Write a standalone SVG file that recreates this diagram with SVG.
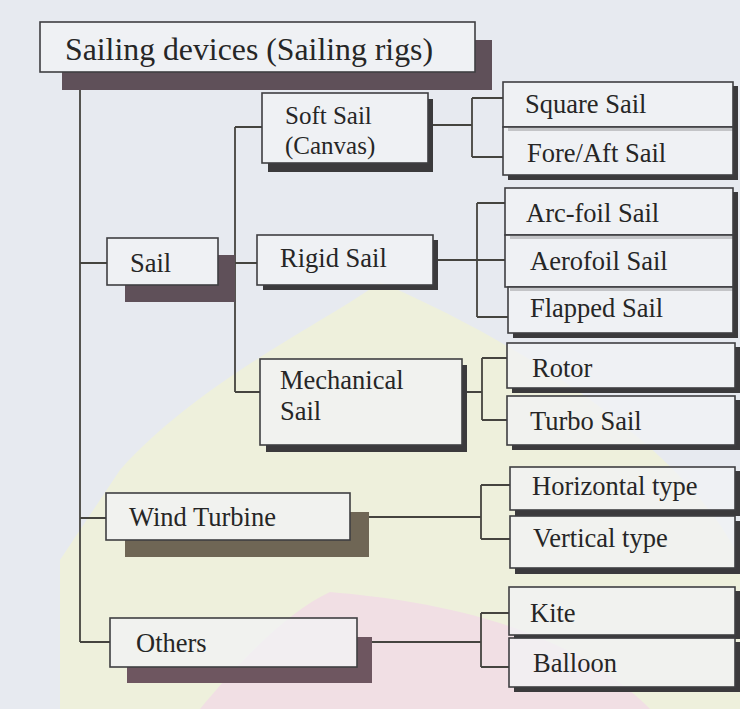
<svg xmlns="http://www.w3.org/2000/svg" width="740" height="709" viewBox="0 0 740 709">
<style>
.bx{fill:#f1f3f6;fill-opacity:0.75;stroke:#3f3f42;stroke-width:1.6}
.sh{fill:#3b3a3c}
.shb{fill:#5f5059}
.ln{fill:none;stroke:#45443f;stroke-width:1.8}
.t{font-family:"Liberation Serif","Times New Roman",serif;font-size:26.5px;fill:#262626}
.ts{font-family:"Liberation Serif","Times New Roman",serif;font-size:25px;fill:#262626}
.tt{font-family:"Liberation Serif","Times New Roman",serif;font-size:31px;fill:#262626}
</style>
<rect x="0" y="0" width="740" height="709" fill="#e7eaf0"/>
<path d="M380,282 C330,320 200,380 120,470 L60,560 L60,709 L740,709 L740,560 C700,470 560,360 380,282 Z" fill="#eef0dc"/>
<path d="M330,592 C420,600 560,620 650,709 L200,709 C240,660 290,610 330,592 Z" fill="#f1dfe4"/>

<g id="connectors">
<path class="ln" d="M80,90 V642 M80,263 H107 M80,518 H106 M80,642 H110"/>
<path class="ln" d="M235,127 V392 M235,127 H262 M235,263 H257 M235,392 H260"/>
<path class="ln" d="M432,125 H472 M472,98 V157 M472,98 H503 M472,157 H503"/>
<path class="ln" d="M438,260 H505 M477,203 V317 M477,203 H505 M477,317 H508"/>
<path class="ln" d="M467,392 H482 M482,358 V420 M482,358 H507 M482,420 H507"/>
<path class="ln" d="M369,517 H481 M481,485 V539 M481,485 H510 M481,539 H510"/>
<path class="ln" d="M372,642 H481 M481,613 V667 M481,613 H509 M481,667 H509"/>
</g>

<g id="title">
<path class="shb" d="M475,40 H492 V90 H62 V72 H475 Z"/>
<rect class="bx" x="40" y="22" width="435" height="50"/>
<text class="tt" x="65" y="60" textLength="368" lengthAdjust="spacingAndGlyphs">Sailing devices (Sailing rigs)</text>
</g>

<g id="sail">
<path class="shb" d="M218,255 H235 V302 H125 V285 H218 Z"/>
<rect class="bx" x="107" y="238" width="111" height="47"/>
<text class="t" x="130" y="272">Sail</text>
</g>

<g id="soft-sail">
<path class="sh" d="M428,99 H433 V172 H268 V163 H428 Z"/>
<rect class="bx" x="262" y="93" width="166" height="70"/>
<text class="ts" x="285" y="124">Soft Sail</text>
<text class="ts" x="285" y="154">(Canvas)</text>
</g>

<g id="rigid-sail">
<path class="sh" d="M433,240 H438 V290 H263 V285 H433 Z"/>
<rect class="bx" x="257" y="235" width="176" height="50"/>
<text class="t" x="280" y="267">Rigid Sail</text>
</g>

<g id="mechanical-sail">
<path class="sh" d="M462,365 H467 V452 H266 V445 H462 Z"/>
<rect class="bx" x="260" y="359" width="202" height="86"/>
<text class="t" x="280" y="389">Mechanical</text>
<text class="t" x="280" y="420">Sail</text>
</g>

<g id="wind-turbine">
<path class="shb" d="M350,512 H369 V557 H125 V540 H350 Z" style="fill:#6f6655"/>
<rect class="bx" x="106" y="493" width="244" height="47"/>
<text class="t" x="129" y="526">Wind Turbine</text>
</g>

<g id="others">
<path class="shb" d="M357,637 H372 V683 H127 V667 H357 Z" style="fill:#6e5660"/>
<rect class="bx" x="110" y="618" width="247" height="49"/>
<text class="t" x="136" y="652">Others</text>
</g>

<g id="square-sail">
<path class="sh" d="M733,86 H738 V131 H508 V127 H733 Z"/>
<rect class="bx" x="503" y="82" width="230" height="45"/>
<text class="t" x="525" y="113">Square Sail</text>
</g>
<g id="fore-aft-sail">
<path class="sh" d="M733,131 H738 V180 H508 V175 H733 Z"/>
<rect class="bx" x="503" y="127" width="230" height="48"/>
<text class="t" x="527" y="162">Fore/Aft Sail</text>
</g>

<g id="arc-foil-sail">
<path class="sh" d="M733,192 H738 V239 H510 V235 H733 Z"/>
<rect class="bx" x="505" y="188" width="228" height="47"/>
<text class="t" x="526" y="222">Arc-foil Sail</text>
</g>
<g id="aerofoil-sail">
<path class="sh" d="M733,239 H738 V291 H510 V287 H733 Z"/>
<rect class="bx" x="505" y="235" width="228" height="52"/>
<text class="t" x="530" y="270">Aerofoil Sail</text>
</g>
<g id="flapped-sail">
<path class="sh" d="M733,291 H738 V338 H513 V333 H733 Z"/>
<rect class="bx" x="508" y="287" width="225" height="46"/>
<text class="t" x="530" y="317">Flapped Sail</text>
</g>

<g id="rotor">
<path class="sh" d="M735,347 H740 V393 H512 V388 H735 Z"/>
<rect class="bx" x="507" y="343" width="228" height="45"/>
<text class="t" x="532" y="377">Rotor</text>
</g>
<g id="turbo-sail">
<path class="sh" d="M735,400 H740 V450 H512 V445 H735 Z"/>
<rect class="bx" x="507" y="396" width="228" height="49"/>
<text class="t" x="530" y="430">Turbo Sail</text>
</g>

<g id="horizontal-type">
<path class="sh" d="M735,471 H740 V516 H515 V510 H735 Z"/>
<rect class="bx" x="510" y="467" width="225" height="43"/>
<text class="t" x="532" y="495">Horizontal type</text>
</g>
<g id="vertical-type">
<path class="sh" d="M735,521 H740 V574 H515 V568 H735 Z"/>
<rect class="bx" x="510" y="516" width="225" height="52"/>
<text class="t" x="533" y="547">Vertical type</text>
</g>

<g id="kite">
<path class="sh" d="M735,591 H740 V639 H514 V635 H735 Z"/>
<rect class="bx" x="509" y="587" width="226" height="48"/>
<text class="t" x="530" y="622">Kite</text>
</g>
<g id="balloon">
<path class="sh" d="M735,642 H740 V692 H514 V687 H735 Z"/>
<rect class="bx" x="509" y="638" width="226" height="49"/>
<text class="t" x="533" y="672">Balloon</text>
</g>
</svg>
